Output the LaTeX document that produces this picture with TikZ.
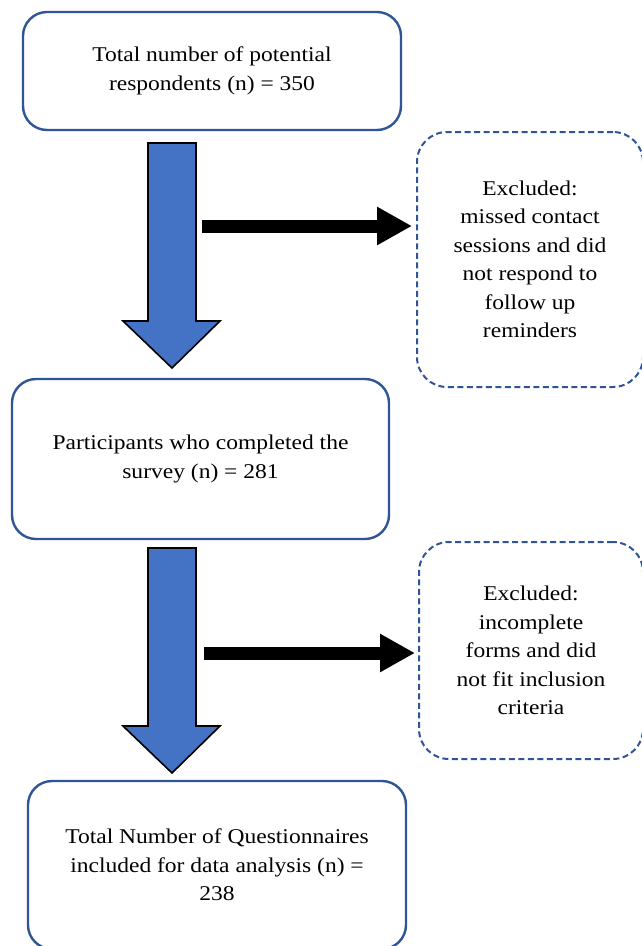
\documentclass[tikz,border=0pt]{standalone}
\usepackage{fontspec}
\setmainfont{Liberation Serif}[FakeStretch=1.12]
\usetikzlibrary{arrows.meta}
\definecolor{boxblue}{HTML}{2F5597}
\definecolor{fillblue}{HTML}{4472C4}
\tikzset{
  solidbox/.style={draw=boxblue, line width=2.4pt, rounded corners=24pt, fill=white,
    align=center, inner sep=0pt, font=\fontsize{21}{28.5}\selectfont},
  dashbox/.style={draw=boxblue, line width=2pt, dash pattern=on 6pt off 3.5pt, rounded corners=30pt,
    align=center, inner sep=0pt, font=\fontsize{21}{28.5}\selectfont},
  bluearrow/.style={draw=black, line width=1.6pt, fill=fillblue, line join=miter},
  blackarrow/.style={draw=black, line width=13pt, -{Triangle[length=35pt, width=36pt]}},
}
\begin{document}
\begin{tikzpicture}[x=1pt, y=-1pt]
\useasboundingbox (0,0) rectangle (642,946);
\clip (0,0) rectangle (642,946);
% boxes
\node[solidbox, minimum width=378pt, minimum height=118pt] (b1) at (212,71)
  {Total number of potential\\respondents (n) = 350};
\node[solidbox, minimum width=377pt, minimum height=160pt] (b2) at (200.5,459)
  {Participants who completed the\\survey (n) = 281};
\node[solidbox, minimum width=378pt, minimum height=168pt] (b3) at (217,865)
  {Total Number of Questionnaires\\included for data analysis (n) =\\238};
\node[dashbox, minimum width=226pt, minimum height=255pt] (d1) at (530,259.5)
  {Excluded:\\missed contact\\sessions and did\\not respond to\\follow up\\reminders};
\node[dashbox, minimum width=224pt, minimum height=217pt] (d2) at (531,650.5)
  {Excluded:\\incomplete\\forms and did\\not fit inclusion\\criteria};
% blue block arrows
\draw[bluearrow] (148,143) -- (196,143) -- (196,321) -- (220,321) -- (172,368)
  -- (123,321) -- (148,321) -- cycle;
\draw[bluearrow] (148,548) -- (196,548) -- (196,726) -- (220,726) -- (172,773)
  -- (123,726) -- (148,726) -- cycle;
% black arrows
\coordinate (s1) at (202,226);
\coordinate (s2) at (204,653);
\draw[blackarrow, shorten >=4pt] (s1) -- (s1 -| d1.west);
\draw[blackarrow, shorten >=3pt] (s2) -- (s2 -| d2.west);
\end{tikzpicture}
\end{document}
